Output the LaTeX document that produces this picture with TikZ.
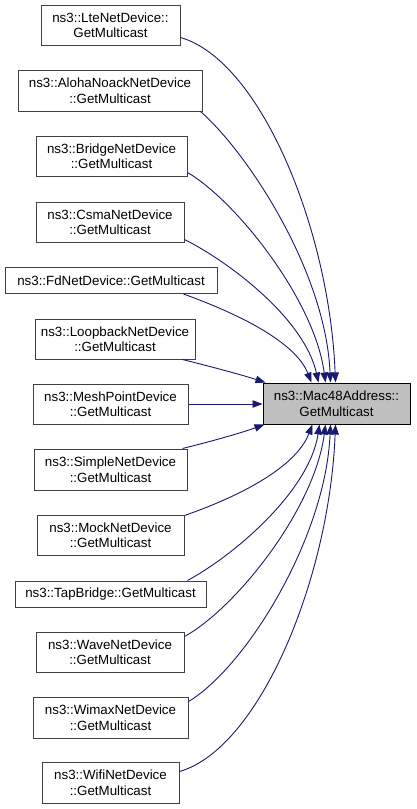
\documentclass[tikz,border=0pt]{standalone}
\usepackage{fontspec}
\setmainfont{Liberation Sans}
\usetikzlibrary{arrows.meta,calc}
\definecolor{edgeblue}{HTML}{191970}
\definecolor{boxgray}{HTML}{404040}
\definecolor{macfill}{HTML}{BFBFBF}
\begin{document}
\begin{tikzpicture}[x=1pt,y=-1pt,
  box/.style={draw=boxgray,line width=1pt,fill=white,rectangle,inner sep=0pt,align=center,
    font=\fontsize{13.33}{15.5}\selectfont},
  edge/.style={draw=edgeblue,line width=0.9pt,-{Triangle[length=10pt,width=7.5pt]}}]
\useasboundingbox (0,0) rectangle (416,809);
\node[box,minimum width=139,minimum height=40] (lte) at (110.5,25) {ns3::LteNetDevice::\\GetMulticast};
\node[box,minimum width=184,minimum height=41] (aloha) at (110,90.5) {ns3::AlohaNoackNetDevice\\::GetMulticast};
\node[box,minimum width=151,minimum height=40] (bridge) at (111.5,156) {ns3::BridgeNetDevice\\::GetMulticast};
\node[box,minimum width=148,minimum height=40] (csma) at (110,222) {ns3::CsmaNetDevice\\::GetMulticast};
\node[box,minimum width=212,minimum height=26] (fd) at (111,280.5) {ns3::FdNetDevice::GetMulticast};
\node[box,minimum width=160,minimum height=40] (loop) at (115,339) {ns3::LoopbackNetDevice\\::GetMulticast};
\node[box,minimum width=155,minimum height=40] (mesh) at (110.5,404) {ns3::MeshPointDevice\\::GetMulticast};
\node[box,minimum width=153,minimum height=41] (simple) at (110.5,469.5) {ns3::SimpleNetDevice\\::GetMulticast};
\node[box,minimum width=147,minimum height=40] (mock) at (110.5,535) {ns3::MockNetDevice\\::GetMulticast};
\node[box,minimum width=191,minimum height=26] (tap) at (110.5,594) {ns3::TapBridge::GetMulticast};
\node[box,minimum width=148,minimum height=40] (wave) at (110,652) {ns3::WaveNetDevice\\::GetMulticast};
\node[box,minimum width=155,minimum height=41] (wimax) at (110.5,717.5) {ns3::WimaxNetDevice\\::GetMulticast};
\node[box,minimum width=137,minimum height=41] (wifi) at (110.5,782.5) {ns3::WifiNetDevice\\::GetMulticast};
\node[box,draw=black,fill=macfill,minimum width=147,minimum height=41] (mac) at (336.5,403.5) {ns3::Mac48Address::\\GetMulticast};
% top edges
\draw[edge] ($(lte.south east)+(0,-8)$) .. controls +(80,23) and +(-6,-153) .. ($(mac.north west)+(73,0)$);
\draw[edge] ($(aloha.south east)+(-2,0)$) .. controls +(45,39) and +(-5,-113) .. ($(mac.north west)+(68,0)$);
\draw[edge] ($(bridge.south east)+(0,-4)$) .. controls +(48,28) and +(-11,-83) .. ($(mac.north west)+(63,0)$);
\draw[edge] ($(csma.south east)+(0,-3)$) .. controls +(46,23) and +(-14,-63) .. ($(mac.north west)+(56,0)$);
\draw[edge] ($(fd.south east)+(-34,0)$) .. controls +(47,17) and +(-17,-43) .. ($(mac.north west)+(49,0)$);
\draw[edge] ($(loop.south east)+(-13,0)$) .. controls +(28,7) and +(-25,-8) .. ($(mac.north west)+(3,0)$);
\draw[edge] (mesh.east) -- (mesh.east -| mac.west);
\draw[edge] ($(simple.north east)+(-5,0)$) .. controls +(28,-7) and +(-25,9) .. ($(mac.south west)+(2,0)$);
\draw[edge] ($(mock.north east)+(0,1)$) .. controls +(46,-16) and +(-18,46) .. ($(mac.south west)+(50,0)$);
\draw[edge] ($(tap.north east)+(-19,0)$) .. controls +(48,-26) and +(-10,66) .. ($(mac.south west)+(57,0)$);
\draw[edge] ($(wave.north east)+(0,5)$) .. controls +(51,-28) and +(-11,85) .. ($(mac.south west)+(63,0)$);
\draw[edge] ($(wimax.north east)+(0,5)$) .. controls +(57,-34) and +(-5,114) .. ($(mac.south west)+(68,0)$);
\draw[edge] ($(wifi.north east)+(0,10)$) .. controls +(80,-23) and +(-6,154) .. ($(mac.south west)+(73,0)$);
\end{tikzpicture}
\end{document}
